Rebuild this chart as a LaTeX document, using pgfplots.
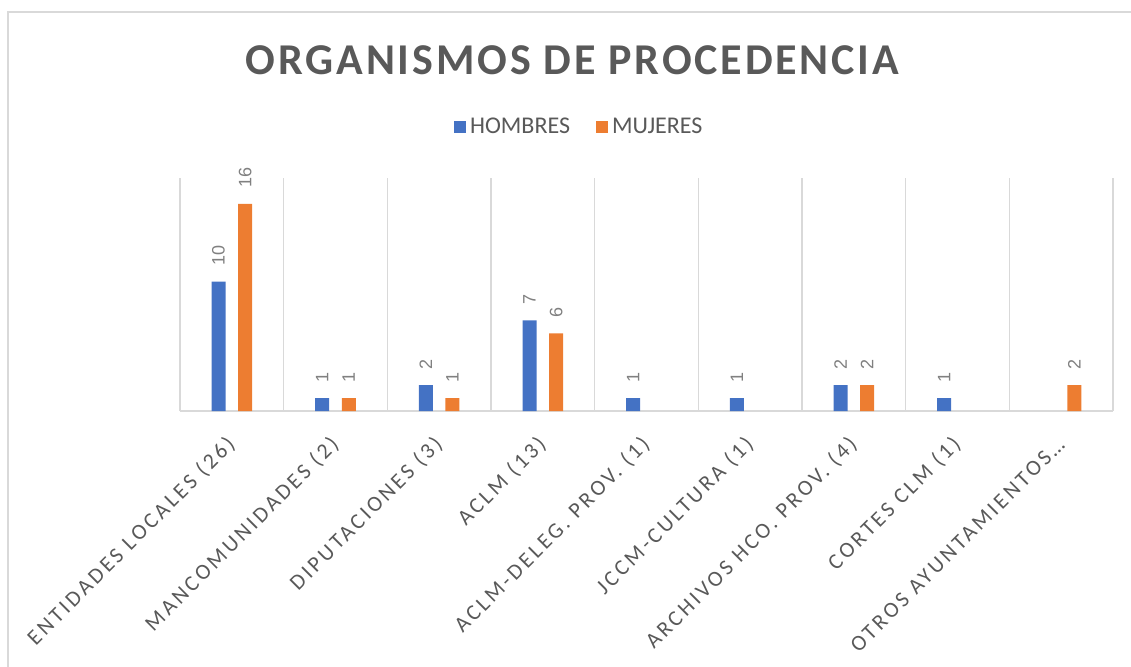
\documentclass[border=0pt]{standalone}
\usepackage{fontspec}
\setmainfont{Carlito}
\newfontfamily\titlefont[LetterSpace=6.5]{Carlito}
\newfontfamily\tickfont[LetterSpace=14]{Carlito}
\newfontfamily\labfont{Liberation Sans}
\usepackage{pgfplots}
\pgfplotsset{compat=1.18}
\definecolor{hblue}{HTML}{4472C4}
\definecolor{morange}{HTML}{ED7D31}
\definecolor{txt}{HTML}{595959}
\definecolor{gridc}{HTML}{D9D9D9}
\definecolor{labc}{HTML}{808080}
\begin{document}
\begin{tikzpicture}[x=1pt,y=1pt]
\useasboundingbox (0,0) rectangle (565.5,333);
\draw[gridc, line width=0.6pt] (4,-2) -- (4,327) -- (567,327);
\node[font=\titlefont\bfseries\fontsize{22}{26}\selectfont, text=txt] at (286.25,303) {ORGANISMOS DE PROCEDENCIA};
\begin{axis}[
  at={(90pt,127.5pt)}, anchor=south west, scale only axis,
  width=466.5pt, height=116.5pt,
  ymin=0, ymax=18, xmin=-0.5, xmax=8.5,
  ybar=6.3pt, bar width=7pt,
  axis line style={draw=none},
  ytick=\empty,
  xtick={0,...,8},
  xticklabels={ENTIDADES LOCALES (26), MANCOMUNIDADES (2), DIPUTACIONES (3), ACLM (13), ACLM-DELEG. PROV. (1), JCCM-CULTURA (1), ARCHIVOS HCO. PROV. (4), CORTES CLM (1), OTROS AYUNTAMIENTOS…},
  major tick length=0pt,
  xticklabel style={font=\tickfont\fontsize{11}{13}\selectfont, text=txt, rotate=45, anchor=east, inner sep=0pt},
  xticklabel shift=15pt,
  grid style={gridc, line width=0.6pt},
  extra x ticks={-0.5,0.5,1.5,2.5,3.5,4.5,5.5,6.5,7.5,8.5},
  extra x tick labels={},
  extra y ticks={0},
  extra y tick labels={},
  extra tick style={grid=major},
  nodes near coords={\pgfmathprintnumber[assume math mode=true]{\pgfplotspointmeta}},
  every node near coord/.append style={font=\labfont\fontsize{9}{11}\selectfont, text=labc, rotate=90, anchor=west, inner xsep=8pt, inner ysep=0pt, outer sep=0pt},
  clip=false,
  legend columns=2,
  legend style={at={(0.429,1.219)}, anchor=center, draw=none, font=\fontsize{12}{14}\selectfont, text=txt, /tikz/every even column/.append style={column sep=11pt}},
]
\addplot[fill=hblue, draw=none, legend image code/.code={\fill[hblue] (0pt,-3pt) rectangle (6pt,3pt);}] coordinates {(0,10)(1,1)(2,2)(3,7)(4,1)(5,1)(6,2)(7,1)};
\addplot[fill=morange, draw=none, legend image code/.code={\fill[morange] (0pt,-3pt) rectangle (6pt,3pt);}] coordinates {(0,16)(1,1)(2,1)(3,6)(6,2)(8,2)};
\legend{HOMBRES, MUJERES}
\end{axis}
\end{tikzpicture}
\end{document}
